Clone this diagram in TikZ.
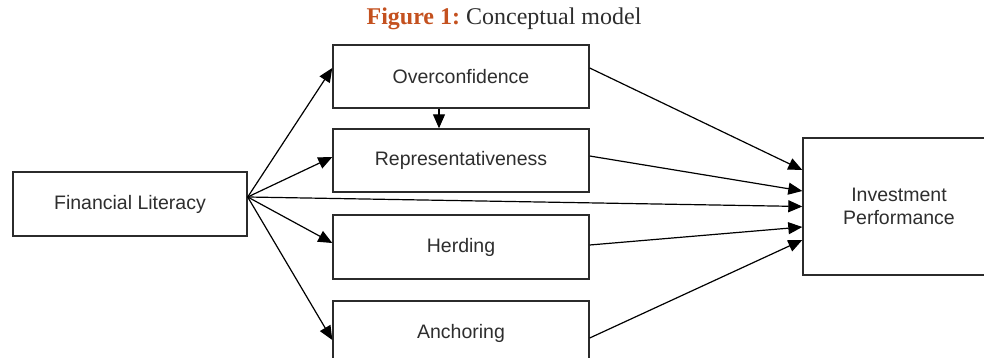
\documentclass[tikz,border=0pt]{standalone}
\usepackage{fontspec}
\setmainfont{Liberation Serif}
\newfontfamily\boxfont{Liberation Sans}
\usetikzlibrary{arrows.meta}
\definecolor{titleorange}{HTML}{C4511F}
\definecolor{txtgray}{HTML}{2E2E2E}
\definecolor{boxline}{HTML}{2B2B2B}
\tikzset{
  cbox/.style={draw=boxline, line width=1.4pt, rectangle, inner sep=0pt, align=center,
    font=\boxfont\fontsize{19.5}{23}\selectfont, text=txtgray},
  boxtext/.style={inner sep=0pt, align=center, font=\boxfont\fontsize{19.5}{23}\selectfont, text=txtgray},
  link/.style={line width=1.2pt, black, -{Triangle[length=14pt,width=12pt]}}
}
\begin{document}
\begin{tikzpicture}[x=1pt,y=-1pt]
\useasboundingbox (0,0) rectangle (984,358);
\fill[white] (0,0) rectangle (984,358);
\begin{scope}
\clip (0,0) rectangle (984,358);

\node (title) at (504,19) {\fontsize{24}{28}\selectfont\textcolor{titleorange}{\textbf{Figure 1:}}\ \textcolor{txtgray}{Conceptual model}};

\node[cbox, minimum width=234pt, minimum height=64pt] (fl) at (130,204) {Financial Literacy};
\node[cbox, minimum width=256pt, minimum height=63pt] (oc) at (461,76.5) {Overconfidence};
\node[cbox, minimum width=256pt, minimum height=63pt] (rep) at (461,160.5) {Representativeness};
\node[cbox, minimum width=256pt, minimum height=64pt] (herd) at (461,247) {Herding};
\node[cbox, minimum width=256pt, minimum height=64pt] (anch) at (461,333) {Anchoring};
\node[cbox, minimum width=400pt, minimum height=137pt] (inv) at (1003,206.5) {};
\node[boxtext] (invtext) at (899,206.5) {Investment\\Performance};

\coordinate (src) at ([yshift=7pt]fl.east);

\draw[link] (src) -- ([yshift=8.5pt]oc.west);
\draw[link] (src) -- ([yshift=3.5pt]rep.west);
\draw[link] (src) -- ([yshift=4pt]herd.west);
\draw[link] (src) -- ([yshift=-7pt]anch.west);
\draw[link] (src) -- (inv.west);

\draw[link] ([xshift=-22pt]oc.south) -- ([xshift=-22pt]rep.north);

\draw[link] ([yshift=8.5pt]oc.east) -- ([yshift=36.5pt]inv.west);
\draw[link] ([yshift=4.5pt]rep.east) -- ([yshift=15.5pt]inv.west);
\draw[link] ([yshift=2pt]herd.east) -- ([yshift=-20.5pt]inv.west);
\draw[link] ([yshift=-5pt]anch.east) -- ([yshift=-33.5pt]inv.west);
\end{scope}
\end{tikzpicture}
\end{document}
